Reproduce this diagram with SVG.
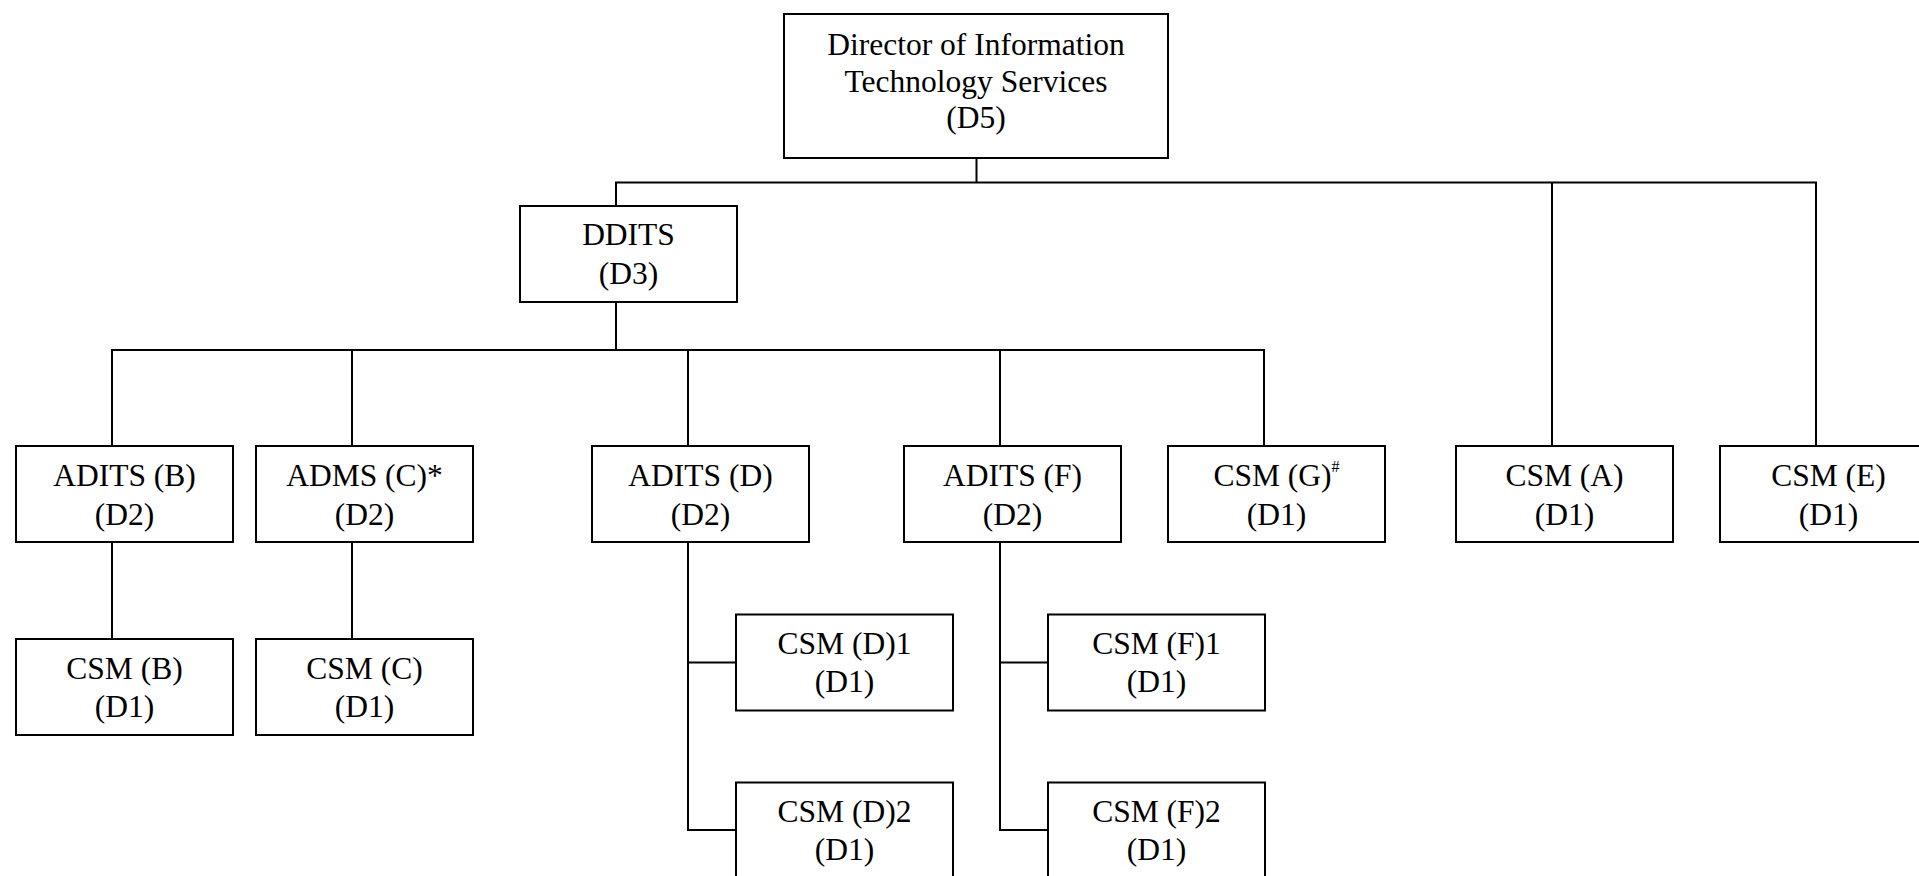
<svg xmlns="http://www.w3.org/2000/svg" width="1919" height="876" viewBox="0 0 1919 876">
<style>
rect.box{fill:#fff;stroke:#000;stroke-width:2}
.conn line{stroke:#000;stroke-width:2}
text{font-family:"Liberation Serif","Times New Roman",serif;font-size:31.5px;fill:#000;text-anchor:middle}
</style>
<rect width="1919" height="876" fill="#fff"/>
<g class="conn" id="connectors">
<line x1="976.5" y1="158" x2="976.5" y2="182.5"/>
<line x1="615" y1="182.5" x2="1817" y2="182.5"/>
<line x1="616" y1="182.5" x2="616" y2="206"/>
<line x1="1552" y1="182.5" x2="1552" y2="446"/>
<line x1="1816" y1="182.5" x2="1816" y2="446"/>
<line x1="616" y1="302" x2="616" y2="350"/>
<line x1="111" y1="350" x2="1265" y2="350"/>
<line x1="112" y1="350" x2="112" y2="446"/>
<line x1="352" y1="350" x2="352" y2="446"/>
<line x1="688" y1="350" x2="688" y2="446"/>
<line x1="1000" y1="350" x2="1000" y2="446"/>
<line x1="1264" y1="350" x2="1264" y2="446"/>
<line x1="112" y1="542" x2="112" y2="639"/>
<line x1="352" y1="542" x2="352" y2="639"/>
<line x1="688" y1="542" x2="688" y2="831"/>
<line x1="687" y1="662.5" x2="736" y2="662.5"/>
<line x1="687" y1="830" x2="736" y2="830"/>
<line x1="1000" y1="542" x2="1000" y2="831"/>
<line x1="999" y1="662.5" x2="1048" y2="662.5"/>
<line x1="999" y1="830" x2="1048" y2="830"/>
</g>
<g id="director">
<rect class="box" x="784" y="14" width="384" height="144"/>
<text x="976" y="55">Director of Information</text>
<text x="976" y="91.5">Technology Services</text>
<text x="976" y="128">(D5)</text>
</g>
<g id="ddits">
<rect class="box" x="520" y="206" width="217" height="96"/>
<text x="628.5" y="245">DDITS</text>
<text x="628.5" y="284">(D3)</text>
</g>
<g id="adits-b">
<rect class="box" x="16" y="446" width="217" height="96"/>
<text x="124.5" y="486">ADITS (B)</text>
<text x="124.5" y="524.5">(D2)</text>
</g>
<g id="adms-c">
<rect class="box" x="256" y="446" width="217" height="96"/>
<text x="364.5" y="486">ADMS (C)*</text>
<text x="364.5" y="524.5">(D2)</text>
</g>
<g id="adits-d">
<rect class="box" x="592" y="446" width="217" height="96"/>
<text x="700.5" y="486">ADITS (D)</text>
<text x="700.5" y="524.5">(D2)</text>
</g>
<g id="adits-f">
<rect class="box" x="904" y="446" width="217" height="96"/>
<text x="1012.5" y="486">ADITS (F)</text>
<text x="1012.5" y="524.5">(D2)</text>
</g>
<g id="csm-g">
<rect class="box" x="1168" y="446" width="217" height="96"/>
<text x="1276.5" y="486">CSM (G)<tspan font-size="16" dy="-14">#</tspan></text>
<text x="1276.5" y="524.5">(D1)</text>
</g>
<g id="csm-a">
<rect class="box" x="1456" y="446" width="217" height="96"/>
<text x="1564.5" y="486">CSM (A)</text>
<text x="1564.5" y="524.5">(D1)</text>
</g>
<g id="csm-e">
<rect class="box" x="1720" y="446" width="217" height="96"/>
<text x="1828.5" y="486">CSM (E)</text>
<text x="1828.5" y="524.5">(D1)</text>
</g>
<g id="csm-b">
<rect class="box" x="16" y="639" width="217" height="96"/>
<text x="124.5" y="678.5">CSM (B)</text>
<text x="124.5" y="716.5">(D1)</text>
</g>
<g id="csm-c">
<rect class="box" x="256" y="639" width="217" height="96"/>
<text x="364.5" y="678.5">CSM (C)</text>
<text x="364.5" y="716.5">(D1)</text>
</g>
<g id="csm-d1">
<rect class="box" x="736" y="614.5" width="217" height="96"/>
<text x="844.5" y="654">CSM (D)1</text>
<text x="844.5" y="692">(D1)</text>
</g>
<g id="csm-d2">
<rect class="box" x="736" y="782.5" width="217" height="96"/>
<text x="844.5" y="822">CSM (D)2</text>
<text x="844.5" y="860">(D1)</text>
</g>
<g id="csm-f1">
<rect class="box" x="1048" y="614.5" width="217" height="96"/>
<text x="1156.5" y="654">CSM (F)1</text>
<text x="1156.5" y="692">(D1)</text>
</g>
<g id="csm-f2">
<rect class="box" x="1048" y="782.5" width="217" height="96"/>
<text x="1156.5" y="822">CSM (F)2</text>
<text x="1156.5" y="860">(D1)</text>
</g>
</svg>
